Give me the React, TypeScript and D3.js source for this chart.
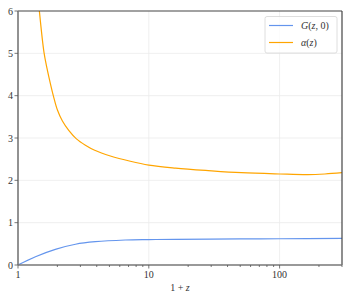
import React, { useEffect, useRef } from "react";
import * as d3 from "d3";

// 1 + z sample points and the two curves
const gZ = [1, 1.36, 1.93, 2.75, 3.9, 6.6, 10, 16, 50, 100, 300];
const gValues = [0, 0.196, 0.37, 0.49, 0.55, 0.59, 0.6, 0.607, 0.615, 0.62, 0.628];

const alphaZ = [1.42, 1.459, 1.579, 1.665, 1.77, 1.866, 2.002, 2.186, 2.443, 2.797, 3.276, 3.858, 5.083, 7.226, 10, 16, 28.5, 51, 100, 165, 222, 300];
const alphaValues = [6.4, 5.98, 5.03, 4.65, 4.28, 3.99, 3.66, 3.4, 3.18, 2.98, 2.83, 2.71, 2.575, 2.45, 2.36, 2.29, 2.23, 2.18, 2.15, 2.135, 2.15, 2.18];

const xTicks = [1, 10, 100];
const xMinor = [2, 3, 4, 5, 6, 7, 8, 9, 20, 30, 40, 50, 60, 70, 80, 90, 200, 300];
const yTicks = [0, 1, 2, 3, 4, 5, 6];

const legendItems = [
  { label: "G", rest: ", 0", color: "#6495ED" },
  { label: "α", rest: "", color: "#FFA500" },
];

const W = 350;
const H = 300;
const margin = { top: 11, right: 8, bottom: 35, left: 18 };
const font = "'Liberation Serif', 'DejaVu Serif', serif";

const App = () => {
  const ref = useRef<SVGSVGElement>(null);

  useEffect(() => {
    const svg = d3.select(ref.current);
    svg.selectAll("*").remove();

    const x = d3
      .scaleLog()
      .domain([1, 300])
      .range([margin.left, W - margin.right]);
    const y = d3
      .scaleLinear()
      .domain([0, 6])
      .range([H - margin.bottom, margin.top]);

    svg.append("rect").attr("width", W).attr("height", H).attr("fill", "#fff");

    const x0 = margin.left;
    const x1 = W - margin.right;
    const y0 = H - margin.bottom;
    const y1 = margin.top;

    // grid
    const grid = svg.append("g").attr("stroke", "#ebebeb").attr("stroke-width", 0.8);
    xTicks.slice(1).forEach((t) => {
      grid.append("line").attr("x1", x(t)).attr("x2", x(t)).attr("y1", y1).attr("y2", y0);
    });
    yTicks.slice(1, -1).forEach((t) => {
      grid.append("line").attr("x1", x0).attr("x2", x1).attr("y1", y(t)).attr("y2", y(t));
    });

    // curves
    const clipId = "plot-clip";
    svg
      .append("clipPath")
      .attr("id", clipId)
      .append("rect")
      .attr("x", x0)
      .attr("y", y1)
      .attr("width", x1 - x0)
      .attr("height", y0 - y1);

    const line = d3
      .line<[number, number]>()
      .x((d) => x(d[0]))
      .y((d) => y(d[1]))
      .curve(d3.curveCatmullRom.alpha(0.5));

    const plot = svg.append("g").attr("clip-path", `url(#${clipId})`);
    plot
      .append("path")
      .attr("d", line(gZ.map((z, i) => [z, gValues[i]])))
      .attr("fill", "none")
      .attr("stroke", legendItems[0].color)
      .attr("stroke-width", 1.2);
    plot
      .append("path")
      .attr("d", line(alphaZ.map((z, i) => [z, alphaValues[i]])))
      .attr("fill", "none")
      .attr("stroke", legendItems[1].color)
      .attr("stroke-width", 1.2);

    // spines
    const spines = svg.append("g").attr("fill", "none");
    spines
      .append("line")
      .attr("x1", x0).attr("x2", x1).attr("y1", y1).attr("y2", y1)
      .attr("stroke", "#444").attr("stroke-width", 1.2);
    spines
      .append("line")
      .attr("x1", x1).attr("x2", x1).attr("y1", y1).attr("y2", y0)
      .attr("stroke", "#444").attr("stroke-width", 1.2);
    spines
      .append("line")
      .attr("x1", x0).attr("x2", x0).attr("y1", y1).attr("y2", y0)
      .attr("stroke", "#777").attr("stroke-width", 1.6);
    spines
      .append("line")
      .attr("x1", x0).attr("x2", x1).attr("y1", y0).attr("y2", y0)
      .attr("stroke", "#777").attr("stroke-width", 1.6);

    // ticks
    const ticks = svg.append("g").attr("stroke", "#555").attr("stroke-width", 0.8);
    xTicks.forEach((t) => {
      ticks.append("line").attr("x1", x(t)).attr("x2", x(t)).attr("y1", y0).attr("y2", y0 + 3.5);
    });
    xMinor.forEach((t) => {
      ticks.append("line").attr("x1", x(t)).attr("x2", x(t)).attr("y1", y0).attr("y2", y0 + 2);
    });
    yTicks.forEach((t) => {
      ticks.append("line").attr("x1", x0 - 3.5).attr("x2", x0).attr("y1", y(t)).attr("y2", y(t));
    });

    const labels = svg
      .append("g")
      .attr("font-family", font)
      .attr("font-size", 10)
      .attr("fill", "#333");
    xTicks.forEach((t) => {
      labels
        .append("text")
        .attr("x", x(t))
        .attr("y", y0 + 13)
        .attr("text-anchor", "middle")
        .text(String(t));
    });
    yTicks.forEach((t) => {
      labels
        .append("text")
        .attr("x", x0 - 5)
        .attr("y", y(t) + 3.5)
        .attr("text-anchor", "end")
        .text(String(t));
    });

    // axis label
    const xl = labels
      .append("text")
      .attr("x", (x0 + x1) / 2)
      .attr("y", H - 9)
      .attr("text-anchor", "middle");
    xl.append("tspan").text("1 + ");
    xl.append("tspan").attr("font-style", "italic").text("z");

    // legend
    const lg = svg.append("g").attr("transform", "translate(265, 16.5)");
    lg.append("rect")
      .attr("width", 72)
      .attr("height", 36.5)
      .attr("rx", 2)
      .attr("fill", "#fff")
      .attr("fill-opacity", 0.8)
      .attr("stroke", "#d6d6d6")
      .attr("stroke-width", 0.8);
    legendItems.forEach((item, i) => {
      const cy = 9 + i * 17;
      lg.append("line")
        .attr("x1", 4)
        .attr("x2", 28)
        .attr("y1", cy)
        .attr("y2", cy)
        .attr("stroke", item.color)
        .attr("stroke-width", 1.2);
      const tx = lg
        .append("text")
        .attr("x", 36)
        .attr("y", cy + 3.5)
        .attr("font-family", font)
        .attr("font-size", 10)
        .attr("fill", "#333");
      tx.append("tspan").attr("font-style", "italic").text(item.label);
      tx.append("tspan").text("(");
      tx.append("tspan").attr("font-style", "italic").text("z");
      tx.append("tspan").text(item.rest + ")");
    });

    return () => {
      svg.selectAll("*").remove();
    };
  }, []);

  return (
    <svg
      ref={ref}
      width={W}
      height={H}
      style={{ position: "absolute", left: 0, top: 0 }}
    ></svg>
  );
};

export default App;
